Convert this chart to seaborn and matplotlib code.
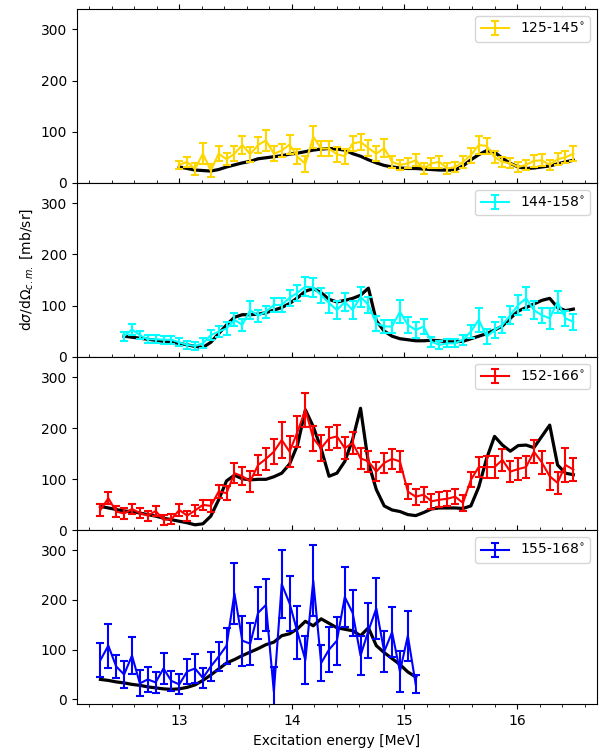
import matplotlib
matplotlib.use("Agg")
import matplotlib.pyplot as plt
import seaborn as sns
from matplotlib.ticker import MultipleLocator

# excitation energy grid [MeV]
energy = [12.30, 12.37, 12.44, 12.51, 12.58, 12.65, 12.72, 12.79, 12.86, 12.93,
          13.00, 13.07, 13.14, 13.21, 13.28, 13.35, 13.42, 13.49, 13.56, 13.63,
          13.70, 13.77, 13.84, 13.91, 13.98, 14.05, 14.12, 14.19, 14.26, 14.33,
          14.40, 14.47, 14.54, 14.61, 14.68, 14.75, 14.82, 14.89, 14.96, 15.03,
          15.10, 15.17, 15.24, 15.31, 15.38, 15.45, 15.52, 15.59, 15.66, 15.73,
          15.80, 15.87, 15.94, 16.01, 16.08, 16.15, 16.22, 16.29, 16.36, 16.43,
          16.50]

# 125-145 deg
e_125 = energy[10:]
exp_125 = [35, 41, 27, 57, 24, 57, 46, 57, 74, 56,
           74, 83, 57, 63, 75, 51, 37, 90, 67, 67,
           56, 52, 77, 80, 68, 57, 68, 41, 35, 38,
           44, 28, 38, 41, 28, 31, 41, 54, 74, 72,
           50, 41, 38, 31, 35, 43, 44, 35, 46, 50,
           57]
err_125 = [8, 10, 12, 20, 12, 15, 12, 15, 18, 15,
           15, 20, 15, 12, 18, 15, 15, 22, 15, 15,
           15, 15, 15, 15, 15, 15, 18, 12, 10, 10,
           12, 10, 10, 12, 10, 10, 12, 15, 18, 15,
           12, 10, 10, 10, 10, 12, 12, 10, 12, 12,
           15]
calc_125 = [31, 28, 25, 24, 23, 26, 31, 35, 39, 42,
            47, 49, 51, 53, 56, 58, 61, 64, 66, 67,
            66, 64, 57, 52, 45, 39, 34, 31, 29, 28,
            28, 27, 26, 25, 25, 25, 33, 45, 55, 63,
            60, 48, 38, 31, 28, 29, 31, 33, 37, 41,
            44]

# 144-158 deg
e_144 = energy[3:]
exp_144 = [40, 53, 42, 34, 34, 33, 33, 28, 23, 21,
           26, 42, 49, 55, 72, 62, 91, 80, 88, 101,
           101, 115, 125, 137, 135, 120, 105, 91, 107, 91,
           117, 101, 65, 59, 59, 88, 62, 52, 59, 29,
           23, 26, 26, 33, 49, 72, 39, 52, 62, 81,
           101, 114, 91, 81, 75, 107, 75, 68]
err_144 = [9, 10, 8, 8, 8, 8, 8, 8, 8, 8,
           10, 10, 10, 12, 13, 12, 18, 12, 12, 13,
           14, 15, 16, 18, 18, 15, 20, 18, 18, 18,
           20, 15, 15, 12, 12, 23, 15, 15, 15, 10,
           8, 8, 8, 10, 12, 23, 15, 15, 15, 18,
           20, 23, 18, 15, 20, 21, 15, 15]
calc_144 = [40, 38, 36, 34, 32, 30, 28, 26, 23, 20,
            18, 28, 45, 62, 77, 82, 82, 83, 86, 91,
            96, 104, 115, 128, 133, 125, 112, 107, 110, 114,
            120, 134, 70, 50, 40, 35, 33, 31, 31, 32,
            31, 29, 29, 30, 35, 40, 45, 52, 60, 75,
            89, 96, 103, 110, 114, 96, 90, 93]

# 152-166 deg
e_152 = energy
exp_152 = [40, 63, 37, 33, 42, 34, 29, 38, 21, 22,
           40, 29, 39, 50, 48, 76, 73, 112, 106, 96,
           128, 140, 154, 177, 154, 193, 236, 180, 161, 180,
           184, 161, 171, 141, 135, 115, 132, 140, 135, 76,
           66, 70, 57, 60, 62, 66, 54, 99, 124, 124,
           124, 138, 115, 120, 124, 154, 133, 106, 93, 128,
           119]
err_152 = [11, 12, 10, 10, 10, 10, 10, 10, 10, 10,
           12, 10, 10, 10, 12, 13, 13, 20, 18, 20,
           20, 22, 25, 36, 30, 30, 33, 25, 25, 23,
           23, 22, 22, 20, 20, 18, 19, 20, 20, 15,
           16, 15, 15, 15, 15, 15, 15, 15, 20, 21,
           21, 21, 21, 22, 22, 22, 22, 26, 22, 33,
           22]
calc_152 = [47, 44, 41, 38, 37, 34, 31, 28, 24, 21,
            18, 15, 11, 13, 28, 60, 97, 108, 101, 99,
            100, 100, 105, 112, 130, 167, 236, 203, 160, 106,
            112, 135, 178, 239, 132, 80, 48, 40, 37, 31,
            29, 35, 42, 44, 44, 44, 43, 48, 85, 141,
            184, 167, 155, 166, 167, 162, 184, 206, 128, 112,
            109]

# 155-168 deg
e_155 = energy[:41]
exp_155 = [79, 108, 66, 50, 88, 32, 40, 34, 62, 37,
           30, 56, 62, 43, 66, 86, 108, 213, 118, 112,
           174, 190, 15, 232, 193, 135, 79, 239, 73, 100,
           118, 206, 174, 88, 138, 183, 96, 135, 56, 128,
           30]
err_155 = [34, 44, 23, 27, 38, 26, 26, 21, 32, 20,
           20, 26, 30, 21, 30, 30, 36, 61, 50, 42,
           53, 53, 50, 68, 56, 53, 49, 72, 37, 45,
           48, 61, 47, 39, 55, 61, 42, 50, 42, 50,
           18]
calc_155 = [40, 38, 35, 33, 30, 28, 25, 23, 21, 20,
            21, 24, 29, 38, 49, 61, 73, 80, 88, 95,
            102, 110, 115, 128, 132, 142, 157, 148, 162, 153,
            144, 141, 138, 128, 144, 108, 94, 82, 70, 55,
            45]

labels = ["125-145$^{\\circ}$", "144-158$^{\\circ}$", "152-166$^{\\circ}$", "155-168$^{\\circ}$"]
colors = ["gold", "cyan", "red", "blue"]

panels = [(e_125, exp_125, err_125, calc_125),
          (e_144, exp_144, err_144, calc_144),
          (e_152, exp_152, err_152, calc_152),
          (e_155, exp_155, err_155, calc_155)]

fig, axs = plt.subplots(4, 1, figsize=(6, 7.5), dpi=100, sharex=True)
fig.subplots_adjust(left=0.128, right=0.995, top=0.988, bottom=0.061, hspace=0)

for i, ax in enumerate(axs):
    x, y, dy, th = panels[i]
    # calculation
    sns.lineplot(x=x, y=th, ax=ax, color="black", lw=2.3, legend=False)
    # data
    ax.errorbar(x, y, yerr=dy, color=colors[i], lw=1.5, capsize=3, capthick=1.5,
                label=labels[i])
    ax.set_ylim(0, 340)
    ax.set_yticks([0, 100, 200, 300])
    ax.set_ylabel("")
    ax.xaxis.set_minor_locator(MultipleLocator(0.2))
    ax.tick_params(axis="x", which="both", top=True)
    ax.legend(loc="upper right")

axs[3].set_ylim(-10, 340)
axs[3].set_xlabel("Excitation energy [MeV]")
axs[1].set_ylabel(r"d$\sigma$/d$\Omega_{c.m.}$ [mb/sr]")

plt.savefig("out.png", dpi=100)
